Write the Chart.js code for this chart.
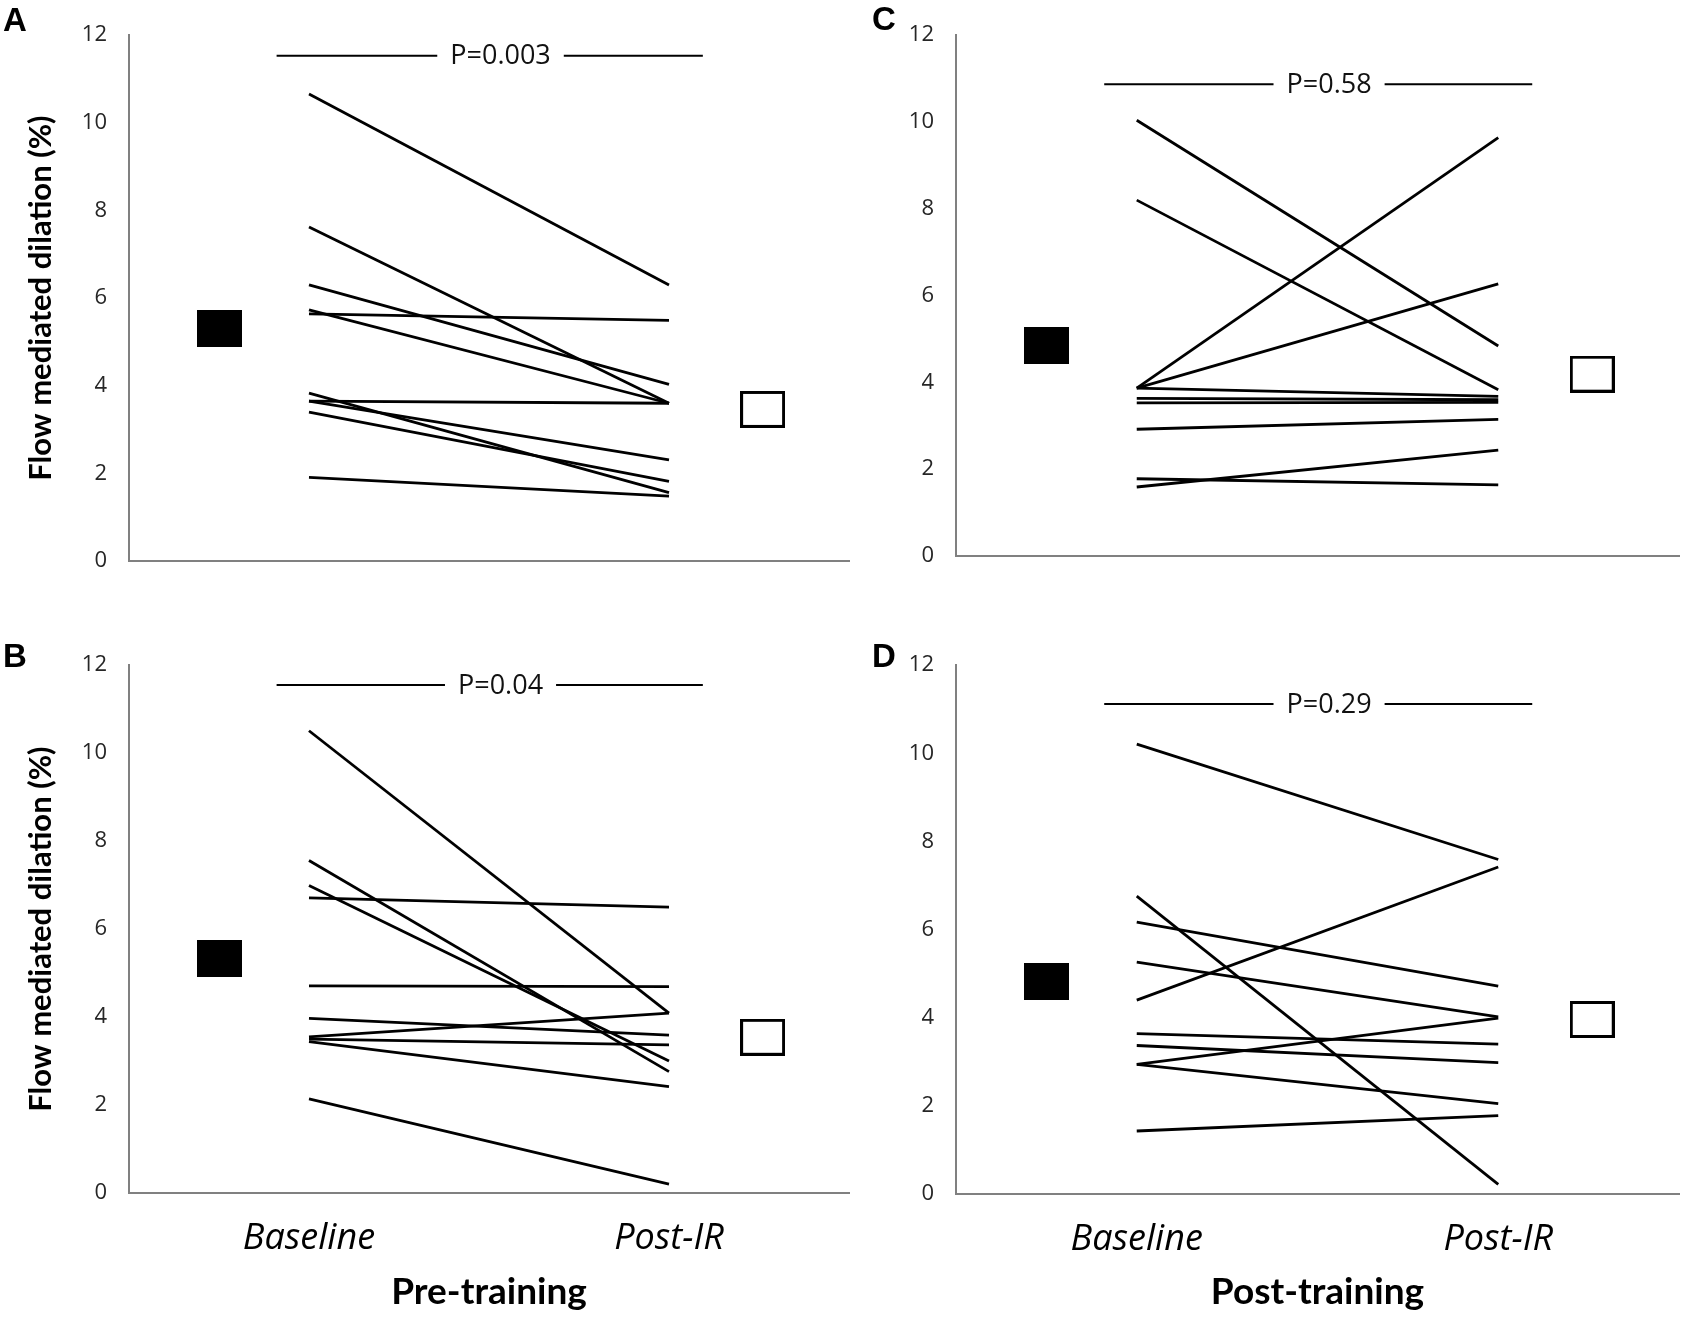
<!DOCTYPE html>
<html>
<head>
<meta charset="utf-8">
<title>Flow mediated dilation</title>
<script src="https://cdn.jsdelivr.net/npm/chart.js@4.4.1/dist/chart.umd.min.js"></script>
<style>
  html, body { margin: 0; padding: 0; background: #fff; }
  body { width: 1700px; height: 1322px; position: relative; overflow: hidden; }
  canvas { position: absolute; }
</style>
</head>
<body>
<canvas id="panelA" width="870" height="620" style="left:0;top:0"></canvas>
<canvas id="panelB" width="870" height="692" style="left:0;top:630px"></canvas>
<canvas id="panelC" width="850" height="620" style="left:850px;top:0"></canvas>
<canvas id="panelD" width="850" height="692" style="left:850px;top:630px"></canvas>
<script>
// categories on the x axis (0..10 linear scale)
var timePoints = [2.5, 7.5];
var timeLabels = ['Baseline', 'Post-IR'];
var meanPoints = [1.25, 8.8];
var yTicks = [0, 2, 4, 6, 8, 10, 12];

// A: pre-training, first visit
var baseA = [10.66, 7.62, 6.30, 5.73, 5.64, 3.83, 3.65, 3.65, 3.40, 1.91];
var postA = [6.30, 3.60, 4.03, 3.60, 5.49, 1.56, 3.60, 2.31, 1.82, 1.48];
var meanA = [5.30, 3.46];

// B: pre-training, second visit
var baseB = [10.51, 7.56, 6.99, 6.71, 4.71, 3.97, 3.55, 3.50, 3.44, 2.14];
var postB = [4.09, 2.76, 3.00, 6.50, 4.69, 3.59, 4.09, 3.37, 2.42, 0.20];
var meanB = [5.33, 3.54];

// C: post-training, first visit
var baseC = [10.04, 8.20, 3.87, 3.87, 3.87, 3.63, 3.53, 2.92, 1.78, 1.59];
var postC = [4.84, 3.83, 9.64, 6.27, 3.68, 3.60, 3.54, 3.15, 1.64, 2.44];
var meanC = [4.84, 4.19];

// D: post-training, second visit
var baseD = [10.21, 4.40, 6.76, 6.17, 5.26, 2.94, 3.64, 3.37, 2.94, 1.43];
var postD = [7.59, 7.42, 0.22, 4.72, 4.02, 3.99, 3.40, 2.98, 2.05, 1.78];
var meanD = [4.83, 3.96];

// significance bars
var pLabels = ['P=0.003', 'P=0.04', 'P=0.58', 'P=0.29'];
var pLevels = [11.53, 11.55, 10.87, 11.12];
var pSpan = [2.05, 7.97];
var pTextAt = 5.16;

function boxImage(filled) {
    var c = document.createElement('canvas');
    c.width = 45;
    c.height = 37;
    var g = c.getContext('2d');
    if (filled) {
        g.fillStyle = '#000';
        g.fillRect(0, 0, 45, 37);
    } else {
        g.fillStyle = '#fff';
        g.fillRect(0, 0, 45, 37);
        g.strokeStyle = '#000';
        g.lineWidth = 3;
        g.strokeRect(1.5, 1.5, 42, 34);
    }
    return c;
}
var filledBox = boxImage(true);
var openBox = boxImage(false);

// panel letter and the P value over the bar
var panelText = {
    id: 'panelText',
    afterDatasetsDraw: function(chart, args, o) {
        var ctx = chart.ctx;
        var xs = chart.scales.x, ys = chart.scales.y;
        ctx.save();
        ctx.font = '27px "Open Sans"';
        ctx.textAlign = 'center';
        ctx.textBaseline = 'middle';
        var px = xs.getPixelForValue(pTextAt);
        var py = ys.getPixelForValue(o.level);
        var w = ctx.measureText(o.p).width + 26;
        ctx.fillStyle = '#fff';
        ctx.fillRect(px - w / 2, py - 6, w, 12);
        ctx.fillStyle = '#111';
        ctx.fillText(o.p, px, py + 1);

        ctx.font = 'bold 33px "Liberation Sans"';
        ctx.textAlign = 'left';
        ctx.textBaseline = 'alphabetic';
        ctx.fillStyle = '#000';
        ctx.fillText(o.letter, o.lx, o.ly);
        ctx.restore();
    }
};

function makePanel(id, opt) {
    var datasets = [];
    opt.base.forEach(function(b, i) {
        datasets.push({
            data: [{x: timePoints[0], y: b}, {x: timePoints[1], y: opt.post[i]}],
            borderColor: '#000', borderWidth: 2.8, pointRadius: 0, showLine: true
        });
    });
    datasets.push({
        data: [{x: pSpan[0], y: opt.level}, {x: pSpan[1], y: opt.level}],
        borderColor: '#000', borderWidth: 2, pointRadius: 0, showLine: true
    });
    datasets.push({
        data: [{x: meanPoints[0], y: opt.mean[0]}],
        pointStyle: filledBox, pointRadius: 20, showLine: false
    });
    datasets.push({
        data: [{x: meanPoints[1], y: opt.mean[1]}],
        pointStyle: openBox, pointRadius: 20, showLine: false
    });

    return new Chart(document.getElementById(id), {
        type: 'scatter',
        data: {datasets: datasets},
        plugins: [panelText],
        options: {
            responsive: false,
            animation: false,
            layout: {padding: {left: 0, top: opt.top, right: opt.right, bottom: 0}},
            plugins: {
                legend: {display: false},
                tooltip: {enabled: false},
                panelText: {letter: opt.letter, lx: opt.lx, ly: opt.ly, p: opt.p, level: opt.level}
            },
            scales: {
                x: {
                    type: 'linear', min: 0, max: 10,
                    grid: {display: false, drawTicks: false},
                    border: {display: true, color: '#808080', width: 2},
                    afterBuildTicks: function(s) {
                        s.ticks = timePoints.map(function(v) { return {value: v}; });
                    },
                    ticks: {
                        display: opt.bottom,
                        autoSkip: false, maxRotation: 0,
                        padding: 24,
                        color: '#000',
                        font: {family: 'Open Sans', style: 'italic', size: 36},
                        callback: function(v, i) { return timeLabels[i]; }
                    },
                    title: {
                        display: opt.bottom, text: opt.group, color: '#000',
                        font: {family: 'Lato', weight: 'bold', size: 37},
                        padding: {top: 0, bottom: 8}
                    },
                    afterFit: function(s) { s.height = opt.xh; }
                },
                y: {
                    min: 0, max: 12,
                    grid: {display: false, drawTicks: false},
                    border: {display: true, color: '#808080', width: 2},
                    afterBuildTicks: function(s) {
                        s.ticks = yTicks.map(function(v) { return {value: v}; });
                    },
                    ticks: {
                        padding: 22, color: '#262626',
                        font: {family: 'Open Sans', size: 22}
                    },
                    title: {
                        display: opt.yTitle, text: 'Flow mediated dilation (%)', color: '#000',
                        font: {family: 'Lato', weight: 'bold', size: 31},
                        padding: {top: 22, bottom: 0}
                    },
                    afterFit: function(s) { s.width = opt.yw; }
                }
            }
        }
    });
}

makePanel('panelA', {base: baseA, post: postA, mean: meanA, p: pLabels[0], level: pLevels[0],
    letter: 'A', lx: 3, ly: 31, top: 19, right: 7, yw: 129, xh: 59, bottom: false, yTitle: true});
makePanel('panelB', {base: baseB, post: postB, mean: meanB, p: pLabels[1], level: pLevels[1],
    letter: 'B', lx: 3, ly: 37, top: 22, right: 7, yw: 129, xh: 129, bottom: true, yTitle: true,
    group: 'Pre-training'});
makePanel('panelC', {base: baseC, post: postC, mean: meanC, p: pLabels[2], level: pLevels[2],
    letter: 'C', lx: 22, ly: 30, top: 17, right: 10, yw: 106, xh: 64, bottom: false, yTitle: false});
makePanel('panelD', {base: baseD, post: postD, mean: meanD, p: pLabels[3], level: pLevels[3],
    letter: 'D', lx: 22, ly: 37, top: 24, right: 10, yw: 106, xh: 128, bottom: true, yTitle: false,
    group: 'Post-training'});
</script>
</body>
</html>
